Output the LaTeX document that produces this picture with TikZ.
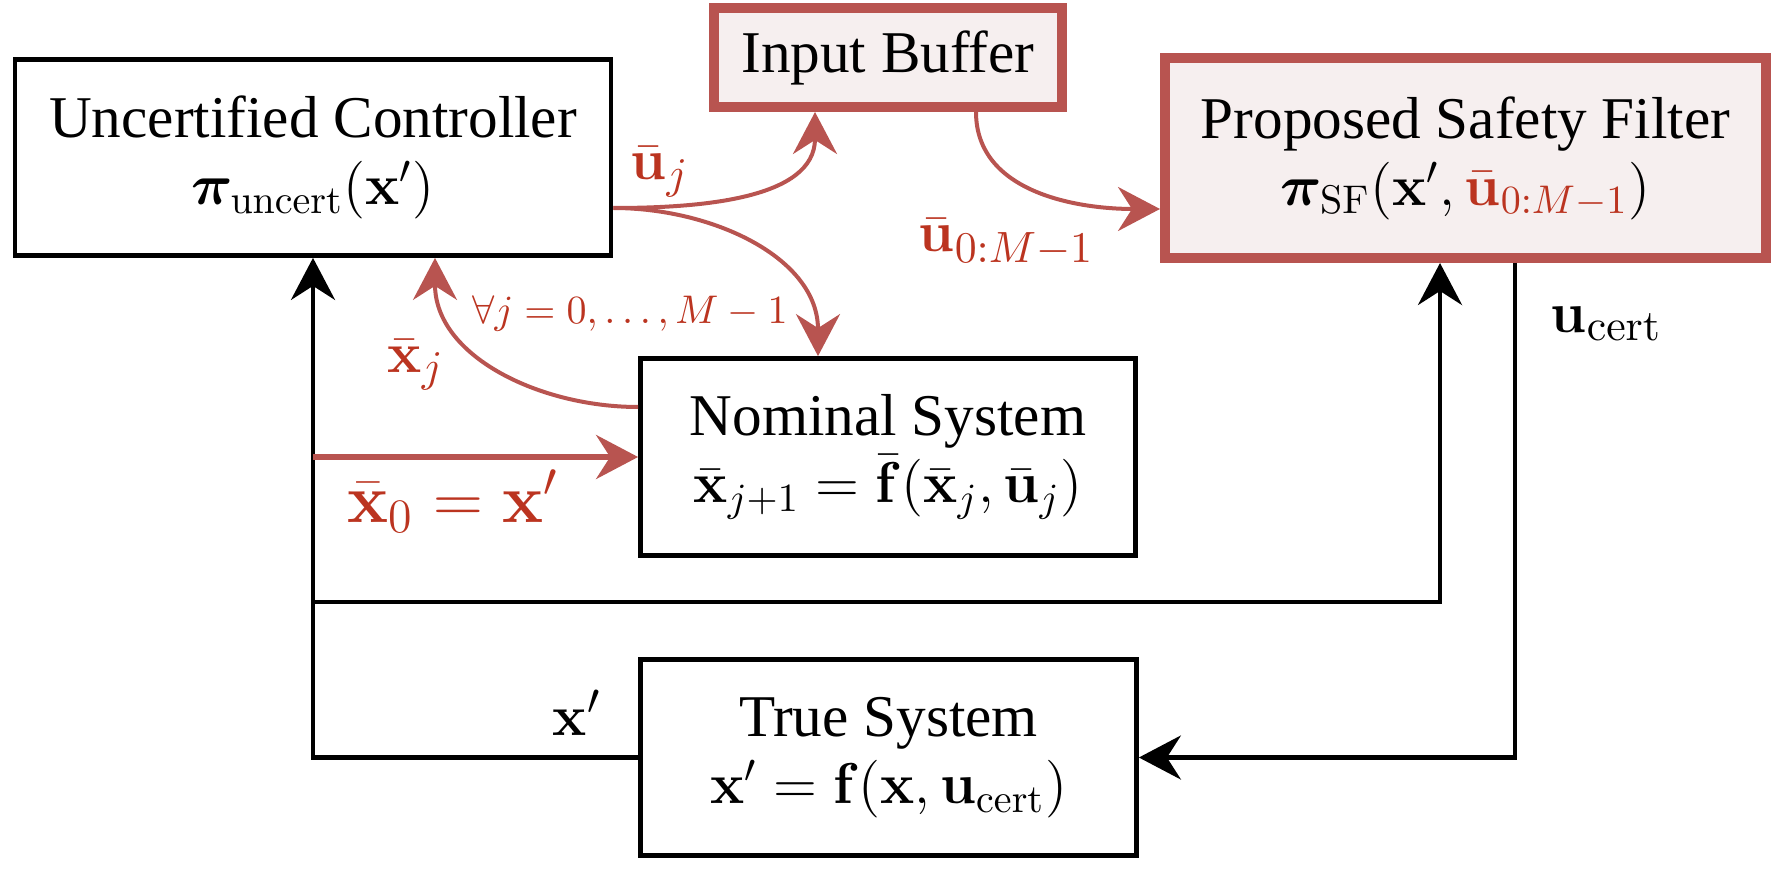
\documentclass[tikz,border=0pt]{standalone}
\usepackage[no-math]{fontspec}
\setmainfont{Liberation Serif}
\usepackage{amsmath,bm}
\usetikzlibrary{arrows.meta,calc}
\definecolor{redline}{RGB}{184,84,80}
\definecolor{redfill}{RGB}{246,239,239}
\definecolor{redtext}{RGB}{187,52,32}
\begin{document}
\begin{tikzpicture}[x=0.25pt,y=0.25pt,
  every node/.style={font=\fontsize{14.8}{16.8}\selectfont},
  blkbox/.style={draw=black,line width=1.2pt,align=center,inner sep=0pt},
  redbox/.style={draw=redline,fill=redfill,line width=2.5pt,align=center,inner sep=0pt},
  tip/.style={-{Stealth[length=10.5pt,width=11pt,inset=3.5pt]}},
  blkarrow/.style={draw=black,line width=1.1pt,tip},
  redarrow/.style={draw=redline,line width=1pt,tip},
  lab/.style={text=redtext,inner sep=0pt,font=\fontsize{15.8}{18}\selectfont},
  blab/.style={text=black,inner sep=0pt,font=\fontsize{15.8}{18}\selectfont}]
\useasboundingbox (0,0) rectangle (1777,869);
% boxes
\node[blkbox,minimum width=149pt,minimum height=49pt] (uc) at (313,711.5)
  {Uncertified Controller\\$\bm{\pi}_{\mathrm{uncert}}(\mathbf{x}')$};
\node[redbox,minimum width=87pt,minimum height=24.75pt] (ib) at (888,811.5)
  {Input Buffer};
\node[redbox,minimum width=150.25pt,minimum height=50pt] (sf) at (1465.5,711)
  {Proposed Safety Filter\\$\bm{\pi}_{\mathrm{SF}}(\mathbf{x}',\textcolor{redtext}{\bar{\mathbf{u}}_{0:M-1}})$};
\node[blkbox,minimum width=123.75pt,minimum height=49.25pt] (ns) at (888,412)
  {Nominal System\\$\bar{\mathbf{x}}_{j+1}=\bar{\mathbf{f}}(\bar{\mathbf{x}}_j,\bar{\mathbf{u}}_j)$};
\node[blkbox,minimum width=124pt,minimum height=49pt] (ts) at (888.5,111.5)
  {True System\\$\mathbf{x}'=\mathbf{f}(\mathbf{x},\mathbf{u}_{\mathrm{cert}})$};
% helper coordinates
\coordinate (r1) at (0,267);
\coordinate (j1) at (uc.south |- r1);
\coordinate (j2) at (uc.south |- ns.west);
\coordinate (sfin) at ($(sf.south)+(-25.5,0)$);
\coordinate (sfout) at ($(sf.south)+(49.5,0)$);
\coordinate (ucout) at ($(uc.east)+(0,-50.5)$);
\coordinate (ibin) at ($(ib.south)+(-73,0)$);
\coordinate (nsin) at ($(ns.north)+(-70,0)$);
\coordinate (nsout) at ($(ns.west)+(0,50)$);
\coordinate (ucin) at ($(uc.south)+(122,0)$);
\coordinate (ibout) at ($(ib.south)+(88,0)$);
\coordinate (sfin2) at ($(sf.west)+(0,-51)$);
% black connectors
\draw[blkarrow] (ts.west) -| (uc.south);
\draw[blkarrow] (j1) -| (sfin);
\draw[blkarrow] (sfout) |- (ts.east);
% red connectors
\draw[redarrow,line width=1.3pt] (j2) -- (ns.west);
\draw[redarrow] (ucout) to[out=0,in=-90] (ibin);
\draw[redarrow] (ucout) to[out=0,in=90] (nsin);
\draw[redarrow] (nsout) to[out=180,in=-90] (ucin);
\draw[redarrow] (ibout) to[out=-90,in=180] (sfin2);
% labels
\node[lab] (luj) at (660,697) {$\bar{\mathbf{u}}_j$};
\node[lab,font=\fontsize{9.7}{11}\selectfont] (lall) at (630,555) {$\forall j=0,\ldots,M-1$};
\node[lab] (lxj) at (416,504) {$\bar{\mathbf{x}}_j$};
\node[lab,anchor=base west] (lu0) at (918,617) {$\bar{\mathbf{u}}_{0:M-1}$};
\node[lab,anchor=base west,font=\fontsize{18.5}{20}\selectfont] (lx0) at (347,347) {$\bar{\mathbf{x}}_0=\mathbf{x}'$};
\node[blab,anchor=base west] (lxp) at (552,134) {$\mathbf{x}'$};
\node[blab,anchor=base west] (luc) at (1550,537) {$\mathbf{u}_{\mathrm{cert}}$};
\end{tikzpicture}
\end{document}
